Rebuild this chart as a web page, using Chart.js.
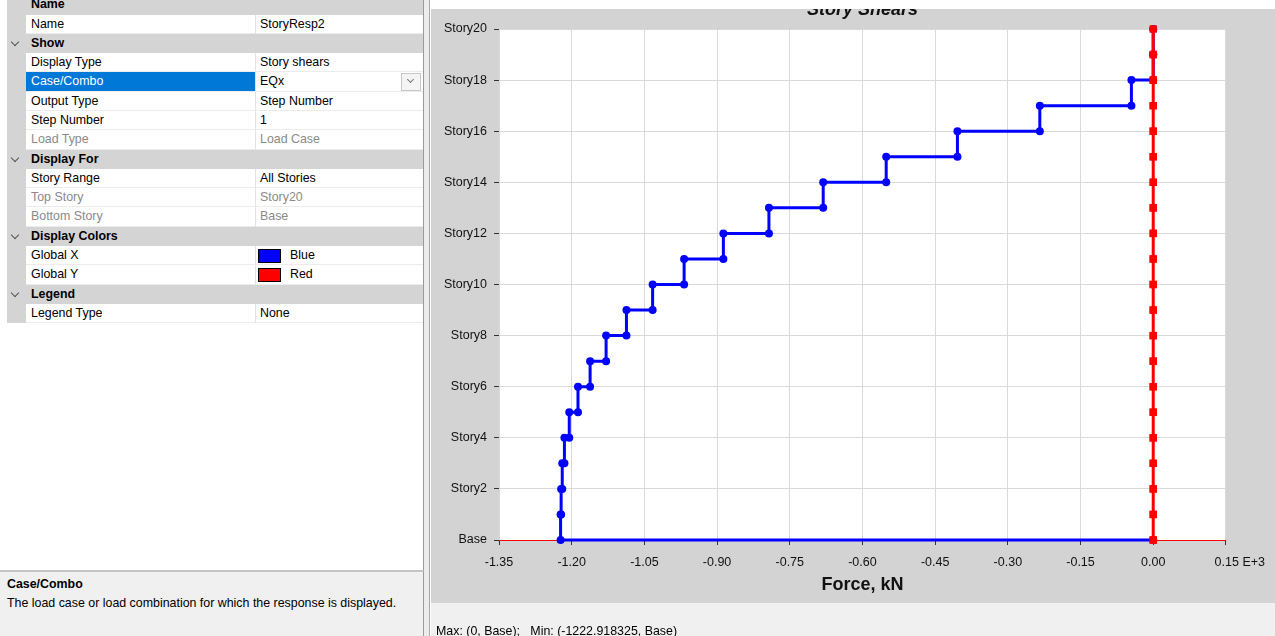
<!DOCTYPE html>
<html>
<head>
<meta charset="utf-8">
<script src="https://cdn.jsdelivr.net/npm/chart.js@4.4.1/dist/chart.umd.min.js"></script>
<style>
  html, body { margin: 0; padding: 0; width: 1275px; height: 636px; overflow: hidden; background: #fff;
    font-family: "Liberation Sans", Arial, sans-serif; font-size: 12.4px; color: #000; }
  #left { position: absolute; left: 0; top: 0; width: 423px; height: 570px; background: #fff; overflow: hidden;
    border-right: 1px solid #9a9a9a; }
  #rows { position: absolute; left: 0; top: -4.8px; width: 423px; }
  .row { position: relative; height: 19.3px; line-height: 19.3px; white-space: nowrap; }
  .row .gut { position: absolute; left: 7px; top: 0; width: 19px; height: 100%; background: #d4d4d4; }
  .row .nm { position: absolute; left: 26px; top: 0; width: 229px; height: 100%; padding-left: 5px; box-sizing: border-box;
    border-bottom: 1px solid #ececec; }
  .row .val { position: absolute; left: 255px; top: 0; width: 168px; height: 100%; padding-left: 4px; box-sizing: border-box;
    border-left: 1px solid #e2e2e2; border-bottom: 1px solid #ececec; }
  .row.hdr { background: #d4d4d4; margin-left: 7px; font-weight: bold; }
  .row.hdr span { position: absolute; left: 24px; }
  .row.hdr .chev { position: absolute; left: 5px; top: 5px; width: 5px; height: 5px; border-right: 1.3px solid #555;
    border-bottom: 1.3px solid #555; transform: rotate(45deg); }
  .dis { color: #8a8a8a; }
  .sel { background: #0078d7; color: #fff; }
  .dd { position: absolute; right: 2px; top: 1px; width: 18px; height: 16px; border: 1px solid #c8c8c8; background: #f4f4f4; }
  .dd:after { content: ""; position: absolute; left: 6px; top: 3px; width: 4px; height: 4px; border-right: 1px solid #777;
    border-bottom: 1px solid #777; transform: rotate(45deg); }
  .sw { position: absolute; left: 2px; top: 3px; width: 21px; height: 12px; border: 1px solid #000; }
  #split { position: absolute; left: 424px; top: 0; width: 5px; height: 636px; background: #ececec; border-right: 1px solid #a8a8a8; }
  #desc { position: absolute; left: 0; top: 570px; width: 423px; height: 66px; background: #f0f0f0;
    border-top: 2px solid #c4c4c4; border-right: 1px solid #9a9a9a; }
  #desc b { position: absolute; left: 7px; top: 5px; }
  #desc div { position: absolute; left: 7px; top: 24px; white-space: nowrap; }
  #right { position: absolute; left: 431px; top: 0; width: 844px; height: 604px; background: #d3d3d3; }
  #right canvas { display: block; }
  #topstrip { position: absolute; left: 431px; top: 0; width: 844px; height: 9px; background: #fff; }
  #status { position: absolute; left: 431px; top: 603px; width: 844px; height: 33px; background: #f0f0f0; }
  #status span { position: absolute; left: 5px; top: 21px; white-space: nowrap; }
</style>
</head>
<body>
<div id="left">
  <div id="rows">
    <div class="row hdr"><span>Name</span></div>
    <div class="row"><div class="gut"></div><div class="nm">Name</div><div class="val">StoryResp2</div></div>
    <div class="row hdr"><div class="chev"></div><span>Show</span></div>
    <div class="row"><div class="gut"></div><div class="nm">Display Type</div><div class="val">Story shears</div></div>
    <div class="row"><div class="gut"></div><div class="nm sel">Case/Combo</div><div class="val">EQx<div class="dd"></div></div></div>
    <div class="row"><div class="gut"></div><div class="nm">Output Type</div><div class="val">Step Number</div></div>
    <div class="row"><div class="gut"></div><div class="nm">Step Number</div><div class="val">1</div></div>
    <div class="row"><div class="gut"></div><div class="nm dis">Load Type</div><div class="val dis">Load Case</div></div>
    <div class="row hdr"><div class="chev"></div><span>Display For</span></div>
    <div class="row"><div class="gut"></div><div class="nm">Story Range</div><div class="val">All Stories</div></div>
    <div class="row"><div class="gut"></div><div class="nm dis">Top Story</div><div class="val dis">Story20</div></div>
    <div class="row"><div class="gut"></div><div class="nm dis">Bottom Story</div><div class="val dis">Base</div></div>
    <div class="row hdr"><div class="chev"></div><span>Display Colors</span></div>
    <div class="row"><div class="gut"></div><div class="nm">Global X</div><div class="val"><div class="sw" style="background:#0000ff"></div><span style="padding-left:30px">Blue</span></div></div>
    <div class="row"><div class="gut"></div><div class="nm">Global Y</div><div class="val"><div class="sw" style="background:#ff0000"></div><span style="padding-left:30px">Red</span></div></div>
    <div class="row hdr"><div class="chev"></div><span>Legend</span></div>
    <div class="row"><div class="gut"></div><div class="nm">Legend Type</div><div class="val">None</div></div>
  </div>
</div>
<div id="desc"><b>Case/Combo</b><div>The load case or load combination for which the response is displayed.</div></div>
<div id="split"></div>
<div id="right"><canvas id="storyChart" width="844" height="604"></canvas></div>
<div id="topstrip"></div>
<div id="status"><span>Max: (0, Base);&nbsp;&nbsp; Min: (-1222.918325, Base)</span></div>

<script>
// story levels, Base = 0
const storyNames = ['Base', 'Story1', 'Story2', 'Story3', 'Story4', 'Story5', 'Story6', 'Story7', 'Story8', 'Story9', 'Story10',
  'Story11', 'Story12', 'Story13', 'Story14', 'Story15', 'Story16', 'Story17', 'Story18', 'Story19', 'Story20'];

// story shear (kN) for Story1 .. Story20
const shearGlobalX = [-1222.9, -1221.8, -1219.5, -1215, -1205, -1187, -1162, -1129, -1087, -1033,
  -968, -887, -793, -681, -551, -404, -234, -45, 0, 0];
const shearGlobalY = [0, 0, 0, 0, 0, 0, 0, 0, 0, 0, 0, 0, 0, 0, 0, 0, 0, 0, 0, 0];

const xTicks = [-1350, -1200, -1050, -900, -750, -600, -450, -300, -150, 0, 150];

// turn per-story shears into the stepped outline (top and bottom of each story)
function stepPoints(shears) {
  const pts = [];
  for (let s = shears.length; s >= 1; s--) {
    pts.push({ x: shears[s - 1], y: s });
    pts.push({ x: shears[s - 1], y: s - 1 });
  }
  pts.push({ x: 0, y: 0 });
  return pts;
}

const plotBg = {
  id: 'plotBg',
  beforeDraw(chart) {
    const a = chart.chartArea, ctx = chart.ctx;
    ctx.save();
    ctx.fillStyle = '#ffffff';
    ctx.fillRect(a.left, a.top, a.right - a.left, a.bottom - a.top);
    ctx.restore();
  },
  afterDraw(chart) {
    const a = chart.chartArea, ctx = chart.ctx;
    ctx.save();
    ctx.font = 'italic bold 18px "Liberation Sans", Arial, sans-serif';
    ctx.fillStyle = '#111';
    ctx.textAlign = 'center';
    ctx.textBaseline = 'alphabetic';
    ctx.fillText('Story Shears', (a.left + a.right) / 2, 15);
    ctx.restore();
  }
};

const ctx = document.getElementById('storyChart').getContext('2d');
const storyChart = new Chart(ctx, {
  type: 'scatter',
  data: {
    datasets: [
      {
        label: 'Global Y',
        data: stepPoints(shearGlobalY),
        showLine: true,
        borderColor: '#ff0000',
        backgroundColor: '#ff0000',
        borderWidth: 3,
        pointStyle: 'rect',
        pointRadius: 5.2,
        pointBorderWidth: 0,
        clip: false
      },
      {
        label: 'Global X',
        data: stepPoints(shearGlobalX),
        showLine: true,
        borderColor: '#0000ff',
        backgroundColor: '#0000ff',
        borderWidth: 3,
        pointStyle: 'circle',
        pointRadius: 4,
        pointBorderWidth: 0,
        clip: false
      }
    ]
  },
  options: {
    responsive: false,
    animation: false,
    devicePixelRatio: 1,
    layout: { padding: { top: 29, right: 48, left: 0, bottom: 0 } },
    plugins: {
      legend: { display: false },
      tooltip: { enabled: false },
      title: { display: false }
    },
    scales: {
      x: {
        type: 'linear',
        min: -1350,
        max: 150,
        afterBuildTicks: (axis) => { axis.ticks = xTicks.map(v => ({ value: v })); },
        afterFit: (axis) => { axis.height = 64; },
        ticks: {
          color: '#111',
          font: { family: '"Liberation Sans", Arial, sans-serif', size: 12.5 },
          padding: 10,
          maxRotation: 0,
          autoSkip: false,
          callback: (v) => v === 150 ? '        0.15 E+3' : (Math.round(v / 10) / 100).toFixed(2)
        },
        grid: { color: '#d9d9d9', lineWidth: 1, tickColor: '#333', tickLength: 5 },
        border: { display: true, color: '#ff0000', width: 1 },
        title: {
          display: true,
          text: 'Force, kN',
          color: '#111',
          font: { family: '"Liberation Sans", Arial, sans-serif', size: 18, weight: 'bold' },
          padding: { top: 0, bottom: 8 }
        }
      },
      y: {
        type: 'linear',
        min: 0,
        max: 20,
        afterFit: (axis) => { axis.width = 68; },
        ticks: {
          stepSize: 2,
          autoSkip: false,
          color: '#111',
          font: { family: '"Liberation Sans", Arial, sans-serif', size: 12.5 },
          padding: 7,
          callback: (v) => storyNames[v]
        },
        grid: { color: '#d9d9d9', lineWidth: 1, tickColor: '#333', tickLength: 5 },
        border: { display: false }
      }
    }
  },
  plugins: [plotBg]
});
</script>
</body>
</html>
